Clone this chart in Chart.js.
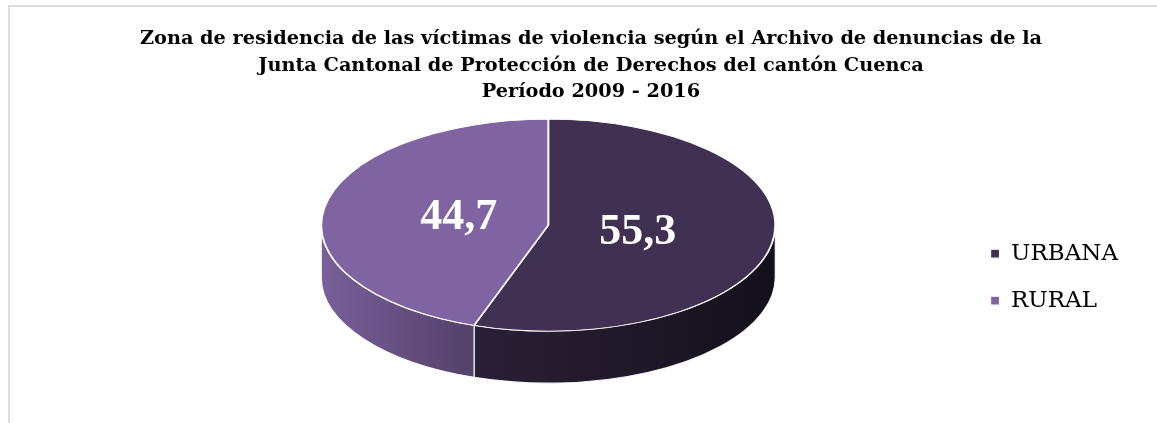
<!DOCTYPE html>
<html>
<head>
<meta charset="utf-8">
<script src="https://cdn.jsdelivr.net/npm/chart.js@4/dist/chart.umd.min.js"></script>
<style>
    html, body { margin: 0; padding: 0; background: #fff; }
    #wrap { position: relative; width: 1157px; height: 423px; overflow: hidden; }
    #frame { position: absolute; left: 8px; top: 5px; right: -4px; bottom: -4px;
        border-top: 2px solid #dcdcdc; border-left: 2px solid #dcdcdc; }
    #chart { position: absolute; left: 0; top: 0; }
</style>
</head>
<body>
<div id="wrap">
    <div id="frame"></div>
    <canvas id="chart" width="1157" height="423"></canvas>
</div>
<script>
var titleLines = [
    'Zona de residencia de las víctimas de violencia según el Archivo de denuncias de la',
    'Junta Cantonal de Protección de Derechos del cantón Cuenca',
    'Período 2009 - 2016'
];
var categories = ['URBANA', 'RURAL'];
var values = [55.3, 44.7];
var sliceColors = ['#403152', '#8064a2'];

// fake 3d look: top face ellipse size, wall height, shift off the legend
var pie3d = { rx: 227, ry: 106, depth: 52, shiftX: 38 };

function shade(hex, f) {
    var n = parseInt(hex.slice(1), 16);
    var r = Math.round(((n >> 16) & 255) * f);
    var g = Math.round(((n >> 8) & 255) * f);
    var b = Math.round((n & 255) * f);
    return 'rgb(' + r + ',' + g + ',' + b + ')';
}

function fmt(v) {
    return v.toFixed(1).replace('.', ',');
}

var pie3dPlugin = {
    id: 'pie3d',
    beforeDatasetsDraw: function (chart) {
        var ctx = chart.ctx;
        var arcs = chart.getDatasetMeta(0).data;
        if (!arcs.length) { return; }
        var cx = arcs[0].x + pie3d.shiftX, cy = arcs[0].y;
        var top = cy - pie3d.depth;
        // side walls, only the front half (0..PI) shows
        arcs.forEach(function (arc, i) {
            var ranges = [[0, Math.PI], [2 * Math.PI, 3 * Math.PI], [-2 * Math.PI, -Math.PI]];
            ranges.forEach(function (rg) {
                var a1 = Math.max(arc.startAngle, rg[0]);
                var a2 = Math.min(arc.endAngle, rg[1]);
                if (a2 <= a1) { return; }
                var grad = ctx.createLinearGradient(cx - pie3d.rx, 0, cx + pie3d.rx, 0);
                grad.addColorStop(0, shade(sliceColors[i], 0.95));
                grad.addColorStop(0.3, shade(sliceColors[i], 0.68));
                grad.addColorStop(1, shade(sliceColors[i], 0.32));
                ctx.save();
                ctx.beginPath();
                ctx.ellipse(cx, top, pie3d.rx, pie3d.ry, 0, a1, a2, false);
                ctx.lineTo(cx + pie3d.rx * Math.cos(a2), cy + pie3d.ry * Math.sin(a2));
                ctx.ellipse(cx, cy, pie3d.rx, pie3d.ry, 0, a2, a1, true);
                ctx.closePath();
                ctx.fillStyle = grad;
                ctx.fill();
                ctx.strokeStyle = 'rgba(255,255,255,0.9)';
                ctx.lineWidth = 1.2;
                ctx.stroke();
                ctx.restore();
            });
        });
        // squash the library's pie into the top face
        var r = arcs[0].outerRadius;
        ctx.save();
        ctx.translate(cx, top);
        ctx.scale(pie3d.rx / r, pie3d.ry / r);
        ctx.translate(-arcs[0].x, -cy);
    },
    afterDatasetsDraw: function (chart) {
        var ctx = chart.ctx;
        ctx.restore();
        var arcs = chart.getDatasetMeta(0).data;
        if (!arcs.length) { return; }
        var cx = arcs[0].x + pie3d.shiftX, cy = arcs[0].y;
        var top = cy - pie3d.depth;
        ctx.save();
        ctx.fillStyle = '#ffffff';
        ctx.font = 'bold 44px "Liberation Serif", serif';
        ctx.textAlign = 'center';
        ctx.textBaseline = 'middle';
        arcs.forEach(function (arc, i) {
            var mid = (arc.startAngle + arc.endAngle) / 2;
            var x = cx + pie3d.rx * 0.4 * Math.cos(mid);
            var y = top + pie3d.ry * 0.4 * Math.sin(mid);
            ctx.fillText(fmt(values[i]), x, y);
        });
        ctx.restore();
    }
};

var ctx = document.getElementById('chart').getContext('2d');
var chart = new Chart(ctx, {
    type: 'pie',
    data: {
        labels: categories,
        datasets: [{
            data: values,
            backgroundColor: sliceColors,
            borderColor: '#ffffff',
            borderWidth: 1.2,
            clip: false
        }]
    },
    options: {
        responsive: false,
        devicePixelRatio: 1,
        animation: false,
        layout: { padding: { left: 54, right: 29, top: 0, bottom: 0 } },
        plugins: {
            title: {
                display: true,
                text: titleLines,
                color: '#000000',
                font: { family: '"DejaVu Serif", serif', size: 19.3, weight: 'bold', lineHeight: 1.37 },
                padding: { top: 26, bottom: 26 }
            },
            legend: {
                position: 'right',
                fullSize: false,
                labels: {
                    color: '#000000',
                    boxWidth: 9,
                    boxHeight: 9,
                    padding: 24,
                    font: { family: '"DejaVu Serif", serif', size: 23 }
                }
            },
            tooltip: { enabled: false }
        }
    },
    plugins: [pie3dPlugin]
});
</script>
</body>
</html>
